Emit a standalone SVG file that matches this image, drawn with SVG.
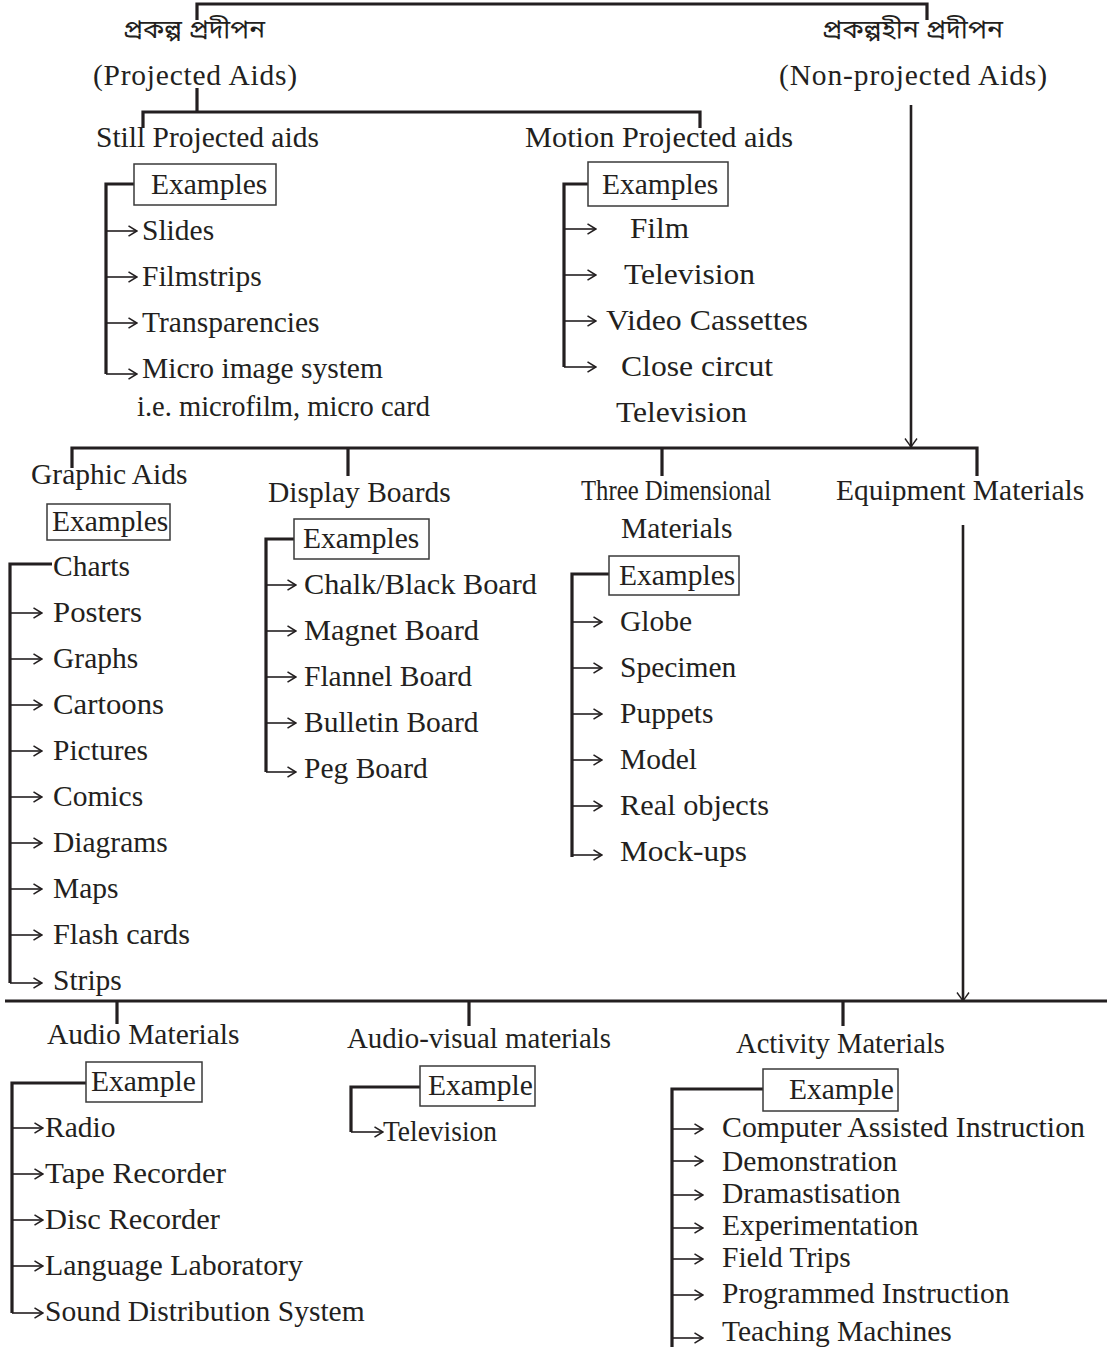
<svg xmlns="http://www.w3.org/2000/svg" width="1107" height="1347" viewBox="0 0 1107 1347">
<style>
text{font-family:"Liberation Serif","Times New Roman",serif;font-size:29.5px;fill:#231f20}
.bn{font-family:"Noto Sans Bengali","Noto Serif Bengali","Lohit Bengali","FreeSerif","Noto Sans",sans-serif;font-size:26px}
.thick{fill:none;stroke:#231f20;stroke-width:3.2}
.arr{fill:none;stroke:#231f20;stroke-width:1.6;marker-end:url(#ah)}
.darr{fill:none;stroke:#231f20;stroke-width:2.6;marker-end:url(#dh)}
.box{fill:#fff;stroke:#3a3a3a;stroke-width:1.5}
</style>
<defs>
<marker id="ah" viewBox="0 0 10 12" refX="9.5" refY="6" markerWidth="10" markerHeight="12" markerUnits="userSpaceOnUse" orient="auto">
<path d="M1,0.8 L9.3,6 L1,11.2" fill="none" stroke="#231f20" stroke-width="1.5"/>
</marker>
<marker id="dh" viewBox="0 0 10 14" refX="9.5" refY="7" markerWidth="10" markerHeight="14" markerUnits="userSpaceOnUse" orient="auto">
<path d="M1,1 L9.3,7 L1,13" fill="none" stroke="#231f20" stroke-width="1.4"/>
</marker>
</defs>
<rect width="1107" height="1347" fill="#fff"/>

<g id="connectors">
<path class="thick" d="M197,20 V4 H927 V20"/>
<path class="thick" d="M197,88 V112"/>
<path class="thick" d="M143,128 V112 H700 V128"/>
<path class="darr" d="M911,105 V447"/>
<path class="thick" d="M134,184 H106 V374"/>
<path class="arr" d="M106,231 H137"/>
<path class="arr" d="M106,277 H137"/>
<path class="arr" d="M106,323 H137"/>
<path class="arr" d="M106,374 H137"/>
<path class="thick" d="M588,184 H564 V367"/>
<path class="arr" d="M564,229 H596"/>
<path class="arr" d="M564,275 H596"/>
<path class="arr" d="M564,321 H596"/>
<path class="arr" d="M564,367 H596"/>
<path class="thick" d="M72,468 V448 H977 V476"/>
<path class="thick" d="M348,448 V476"/>
<path class="thick" d="M662,448 V476"/>
<path class="darr" d="M963,525 V1001"/>
<path class="thick" d="M52,564 H10 V983"/>
<path class="arr" d="M10,613 H42"/>
<path class="arr" d="M10,659 H42"/>
<path class="arr" d="M10,705 H42"/>
<path class="arr" d="M10,751 H42"/>
<path class="arr" d="M10,797 H42"/>
<path class="arr" d="M10,843 H42"/>
<path class="arr" d="M10,889 H42"/>
<path class="arr" d="M10,935 H42"/>
<path class="arr" d="M10,983 H42"/>
<path class="thick" d="M294,539 H266 V772"/>
<path class="arr" d="M266,585 H296"/>
<path class="arr" d="M266,631 H296"/>
<path class="arr" d="M266,677 H296"/>
<path class="arr" d="M266,723 H296"/>
<path class="arr" d="M266,772 H296"/>
<path class="thick" d="M609,574 H572 V857"/>
<path class="arr" d="M572,622 H602"/>
<path class="arr" d="M572,668 H602"/>
<path class="arr" d="M572,714 H602"/>
<path class="arr" d="M572,760 H602"/>
<path class="arr" d="M572,806 H602"/>
<path class="arr" d="M572,855 H602"/>
<path class="thick" d="M5,1001 H1107"/>
<path class="thick" d="M117,1001 V1024"/>
<path class="thick" d="M469,1001 V1026"/>
<path class="thick" d="M843,1001 V1026"/>
<path class="thick" d="M86,1083 H12 V1313"/>
<path class="arr" d="M12,1128 H43"/>
<path class="arr" d="M12,1174 H43"/>
<path class="arr" d="M12,1220 H43"/>
<path class="arr" d="M12,1266 H43"/>
<path class="arr" d="M12,1313 H43"/>
<path class="thick" d="M420,1087 H351 V1132"/>
<path class="arr" d="M351,1132 H383"/>
<path class="thick" d="M763,1089 H672 V1347"/>
<path class="arr" d="M672,1129 H703"/>
<path class="arr" d="M672,1161 H703"/>
<path class="arr" d="M672,1195 H703"/>
<path class="arr" d="M672,1228 H703"/>
<path class="arr" d="M672,1259 H703"/>
<path class="arr" d="M672,1295 H703"/>
<path class="arr" d="M672,1338 H703"/>
</g>

<g id="projected">
<text class="bn" x="123" y="38" textLength="142" lengthAdjust="spacingAndGlyphs">প্রকল্প প্রদীপন</text>
<text x="93" y="85" textLength="204" lengthAdjust="spacing">(Projected Aids)</text>
</g>
<g id="non-projected">
<text class="bn" x="822" y="38" textLength="181" lengthAdjust="spacingAndGlyphs">প্রকল্পহীন প্রদীপন</text>
<text x="779" y="85" textLength="268" lengthAdjust="spacing">(Non-projected Aids)</text>
</g>

<g id="still-projected">
<text x="96" y="147">Still Projected aids</text>
<rect class="box" x="134" y="164" width="142" height="41"/>
<text x="151" y="194">Examples</text>
<text x="142" y="240">Slides</text>
<text x="142" y="286">Filmstrips</text>
<text x="142" y="332">Transparencies</text>
<text x="142" y="378">Micro image system</text>
<text x="137" y="416" textLength="293" lengthAdjust="spacingAndGlyphs">i.e. microfilm, micro card</text>
</g>

<g id="motion-projected">
<text x="525" y="147" textLength="268" lengthAdjust="spacingAndGlyphs">Motion Projected aids</text>
<rect class="box" x="588" y="162" width="140" height="44"/>
<text x="602" y="194">Examples</text>
<text x="630" y="238" textLength="59" lengthAdjust="spacingAndGlyphs">Film</text>
<text x="624" y="284" textLength="131" lengthAdjust="spacingAndGlyphs">Television</text>
<text x="606" y="330" textLength="202" lengthAdjust="spacingAndGlyphs">Video Cassettes</text>
<text x="621" y="376" textLength="152" lengthAdjust="spacingAndGlyphs">Close circut</text>
<text x="616" y="422" textLength="131" lengthAdjust="spacingAndGlyphs">Television</text>
</g>

<g id="graphic-aids">
<text x="31" y="484">Graphic Aids</text>
<rect class="box" x="47" y="504" width="123" height="36"/>
<text x="52" y="531">Examples</text>
<text x="53" y="576">Charts</text>
<text x="53" y="622" textLength="89" lengthAdjust="spacingAndGlyphs">Posters</text>
<text x="53" y="668">Graphs</text>
<text x="53" y="714" textLength="111" lengthAdjust="spacingAndGlyphs">Cartoons</text>
<text x="53" y="760">Pictures</text>
<text x="53" y="806">Comics</text>
<text x="53" y="852">Diagrams</text>
<text x="53" y="898">Maps</text>
<text x="53" y="944" textLength="137" lengthAdjust="spacingAndGlyphs">Flash cards</text>
<text x="53" y="990">Strips</text>
</g>

<g id="display-boards">
<text x="268" y="502">Display Boards</text>
<rect class="box" x="294" y="519" width="135" height="40"/>
<text x="303" y="548">Examples</text>
<text x="304" y="594" textLength="233" lengthAdjust="spacingAndGlyphs">Chalk/Black Board</text>
<text x="304" y="640" textLength="175" lengthAdjust="spacingAndGlyphs">Magnet Board</text>
<text x="304" y="686">Flannel Board</text>
<text x="304" y="732">Bulletin Board</text>
<text x="304" y="778">Peg Board</text>
</g>

<g id="three-dimensional">
<text x="581" y="500" textLength="190" lengthAdjust="spacingAndGlyphs">Three Dimensional</text>
<text x="621" y="538">Materials</text>
<rect class="box" x="609" y="556" width="130" height="39"/>
<text x="619" y="585">Examples</text>
<text x="620" y="631">Globe</text>
<text x="620" y="677">Specimen</text>
<text x="620" y="723">Puppets</text>
<text x="620" y="769">Model</text>
<text x="620" y="815" textLength="149" lengthAdjust="spacingAndGlyphs">Real objects</text>
<text x="620" y="861" textLength="127" lengthAdjust="spacingAndGlyphs">Mock-ups</text>
</g>

<g id="equipment">
<text x="836" y="500">Equipment Materials</text>
</g>

<g id="audio">
<text x="47" y="1044">Audio Materials</text>
<rect class="box" x="86" y="1062" width="116" height="40"/>
<text x="91" y="1091">Example</text>
<text x="45" y="1137">Radio</text>
<text x="45" y="1183" textLength="181" lengthAdjust="spacingAndGlyphs">Tape Recorder</text>
<text x="45" y="1229" textLength="175" lengthAdjust="spacingAndGlyphs">Disc Recorder</text>
<text x="45" y="1275" textLength="258" lengthAdjust="spacingAndGlyphs">Language Laboratory</text>
<text x="45" y="1321">Sound Distribution System</text>
</g>

<g id="audio-visual">
<text x="347" y="1048" textLength="264" lengthAdjust="spacingAndGlyphs">Audio-visual materials</text>
<rect class="box" x="420" y="1066" width="115" height="40"/>
<text x="428" y="1095">Example</text>
<text x="383" y="1141" textLength="114" lengthAdjust="spacingAndGlyphs">Television</text>
</g>

<g id="activity">
<text x="736" y="1053" textLength="209" lengthAdjust="spacingAndGlyphs">Activity Materials</text>
<rect class="box" x="763" y="1069" width="135" height="42"/>
<text x="789" y="1099">Example</text>
<text x="722" y="1137" textLength="363" lengthAdjust="spacingAndGlyphs">Computer Assisted Instruction</text>
<text x="722" y="1171">Demonstration</text>
<text x="722" y="1203">Dramastisation</text>
<text x="722" y="1235">Experimentation</text>
<text x="722" y="1267">Field Trips</text>
<text x="722" y="1303">Programmed Instruction</text>
<text x="722" y="1341">Teaching Machines</text>
</g>
</svg>
